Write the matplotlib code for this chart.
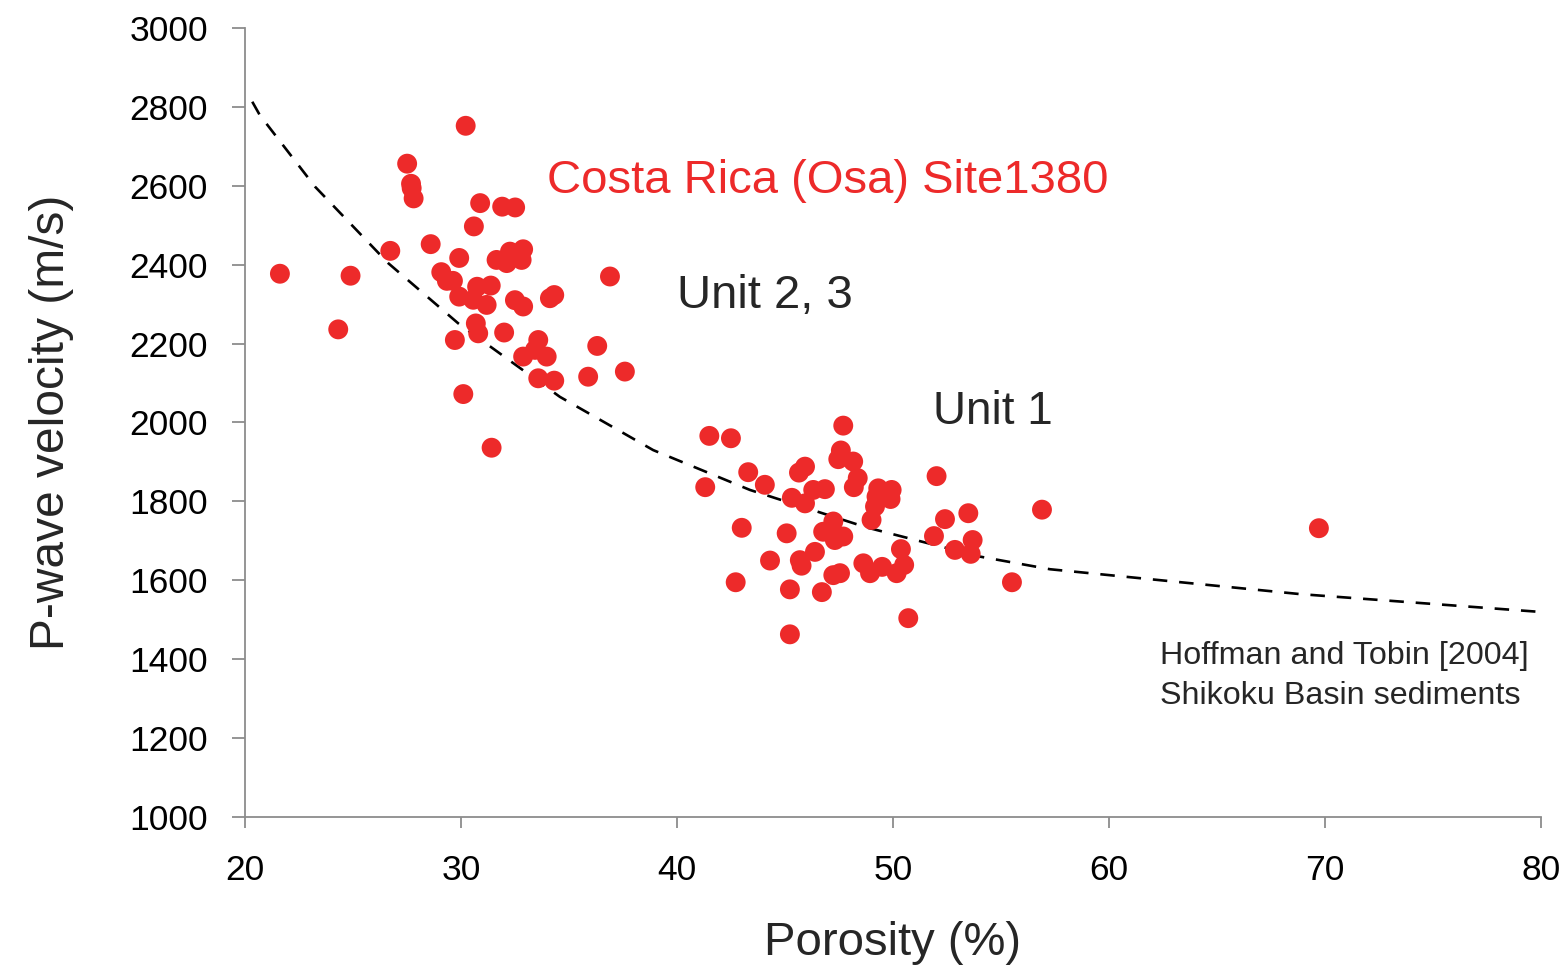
import matplotlib
matplotlib.use("Agg")
import matplotlib.pyplot as plt

# Unit 2, 3 (Site 1380) - porosity (%), Vp (m/s)
unit23_por = [30.22, 27.51, 27.69, 27.72, 27.81, 30.89, 31.91, 32.51, 30.60, 26.73,
              28.60, 29.92, 21.62, 24.89, 29.09, 29.35, 29.63, 29.92, 30.75, 31.38,
              30.57, 31.19, 31.65, 32.12, 32.27, 32.88, 32.81, 32.50, 32.88, 34.12,
              34.32, 36.90, 24.32, 29.72, 30.69, 30.80, 32.00, 33.58, 32.88, 33.97,
              33.43, 33.58, 34.32, 35.89, 36.31, 37.59, 30.11, 31.42]
unit23_vp = [2752, 2656, 2605, 2594, 2568, 2556, 2547, 2545, 2497, 2435,
             2452, 2417, 2377, 2372, 2381, 2359, 2359, 2319, 2344, 2347,
             2311, 2298, 2412, 2404, 2433, 2439, 2412, 2310, 2294, 2315,
             2323, 2370, 2236, 2209, 2251, 2226, 2228, 2209, 2167, 2167,
             2184, 2112, 2106, 2116, 2194, 2129, 2072, 1936]

# Unit 1
unit1_por = [41.50, 42.50, 47.70, 47.59, 47.47, 48.16, 43.30, 45.93, 45.65, 52.02,
             41.31, 44.07, 48.37, 48.19, 49.32, 49.94, 49.89, 49.24, 46.85, 46.31,
             45.32, 45.93, 49.17, 49.01, 53.49, 56.90, 52.41, 43.00, 45.08, 47.24,
             46.77, 47.31, 47.70, 51.90, 53.69, 52.87, 53.60, 50.37, 50.52, 50.17,
             48.63, 48.94, 49.50, 46.39, 45.69, 45.77, 44.31, 47.55, 47.24, 42.72,
             45.23, 46.71, 55.51, 50.71, 45.23, 69.72]
unit1_vp = [1966, 1960, 1992, 1929, 1907, 1901, 1874, 1888, 1873, 1864,
            1836, 1842, 1859, 1836, 1833, 1829, 1806, 1812, 1831, 1829,
            1809, 1795, 1787, 1753, 1770, 1779, 1755, 1733, 1719, 1749,
            1723, 1702, 1711, 1712, 1702, 1677, 1667, 1679, 1639, 1618,
            1643, 1618, 1634, 1672, 1651, 1637, 1650, 1618, 1613, 1595,
            1577, 1570, 1595, 1504, 1463, 1732]

# Hoffman and Tobin [2004] trend
trend_por = [20.34, 20.69, 23.24, 26.63, 29.88, 34.58, 38.90, 43.38, 48.78,
             54.03, 57.27, 68.84, 79.92]
trend_vp = [2813, 2779, 2598, 2404, 2251, 2065, 1930, 1829, 1734,
            1660, 1628, 1565, 1520]

xticks = [20, 30, 40, 50, 60, 70, 80]
yticks = [1000, 1200, 1400, 1600, 1800, 2000, 2200, 2400, 2600, 2800, 3000]

red = '#ED2A2A'
grey = '#8C8C8C'
plt.rcParams['font.family'] = ['Liberation Sans', 'DejaVu Sans']

fig = plt.figure(figsize=(15.66, 9.74), dpi=100)
ax = fig.add_axes([0.1564, 0.1612, 0.8276, 0.8101])

ax.plot(trend_por, trend_vp, color='black', lw=1.9, linestyle=(0, (5.5, 4.5)), zorder=2)
ax.scatter(unit23_por, unit23_vp, s=205, color=red, edgecolors='none', zorder=3)
ax.scatter(unit1_por, unit1_vp, s=205, color=red, edgecolors='none', zorder=3)

ax.set_xlim(20, 80)
ax.set_ylim(1000, 3000)
ax.set_xticks(xticks)
ax.set_yticks(yticks)
ax.tick_params(axis='both', direction='out', color=grey, width=1.3, labelsize=25.5)
ax.tick_params(axis='y', length=9.5, pad=17)
ax.tick_params(axis='x', length=8, pad=19)
for side in ['top', 'right']:
    ax.spines[side].set_visible(False)
for side in ['left', 'bottom']:
    ax.spines[side].set_color(grey)
    ax.spines[side].set_linewidth(1.3)

ax.set_xlabel('Porosity (%)', fontsize=34, color='#262626', labelpad=24)
ax.set_ylabel('P-wave velocity (m/s)', fontsize=34.5, color='#262626', labelpad=40)

ax.text(46.99, 2612, 'Costa Rica (Osa) Site1380', color=red, fontsize=34,
        ha='center', va='center')
ax.text(44.07, 2320, 'Unit 2, 3', color='#262626', fontsize=34, ha='center', va='center')
ax.text(54.63, 2027, 'Unit 1', color='#262626', fontsize=33, ha='center', va='center')
ax.text(62.36, 1358, 'Hoffman and Tobin [2004]\nShikoku Basin sediments',
        color='#262626', fontsize=23.2, ha='left', va='center', linespacing=1.45)

fig.savefig('out.png', dpi=100)
